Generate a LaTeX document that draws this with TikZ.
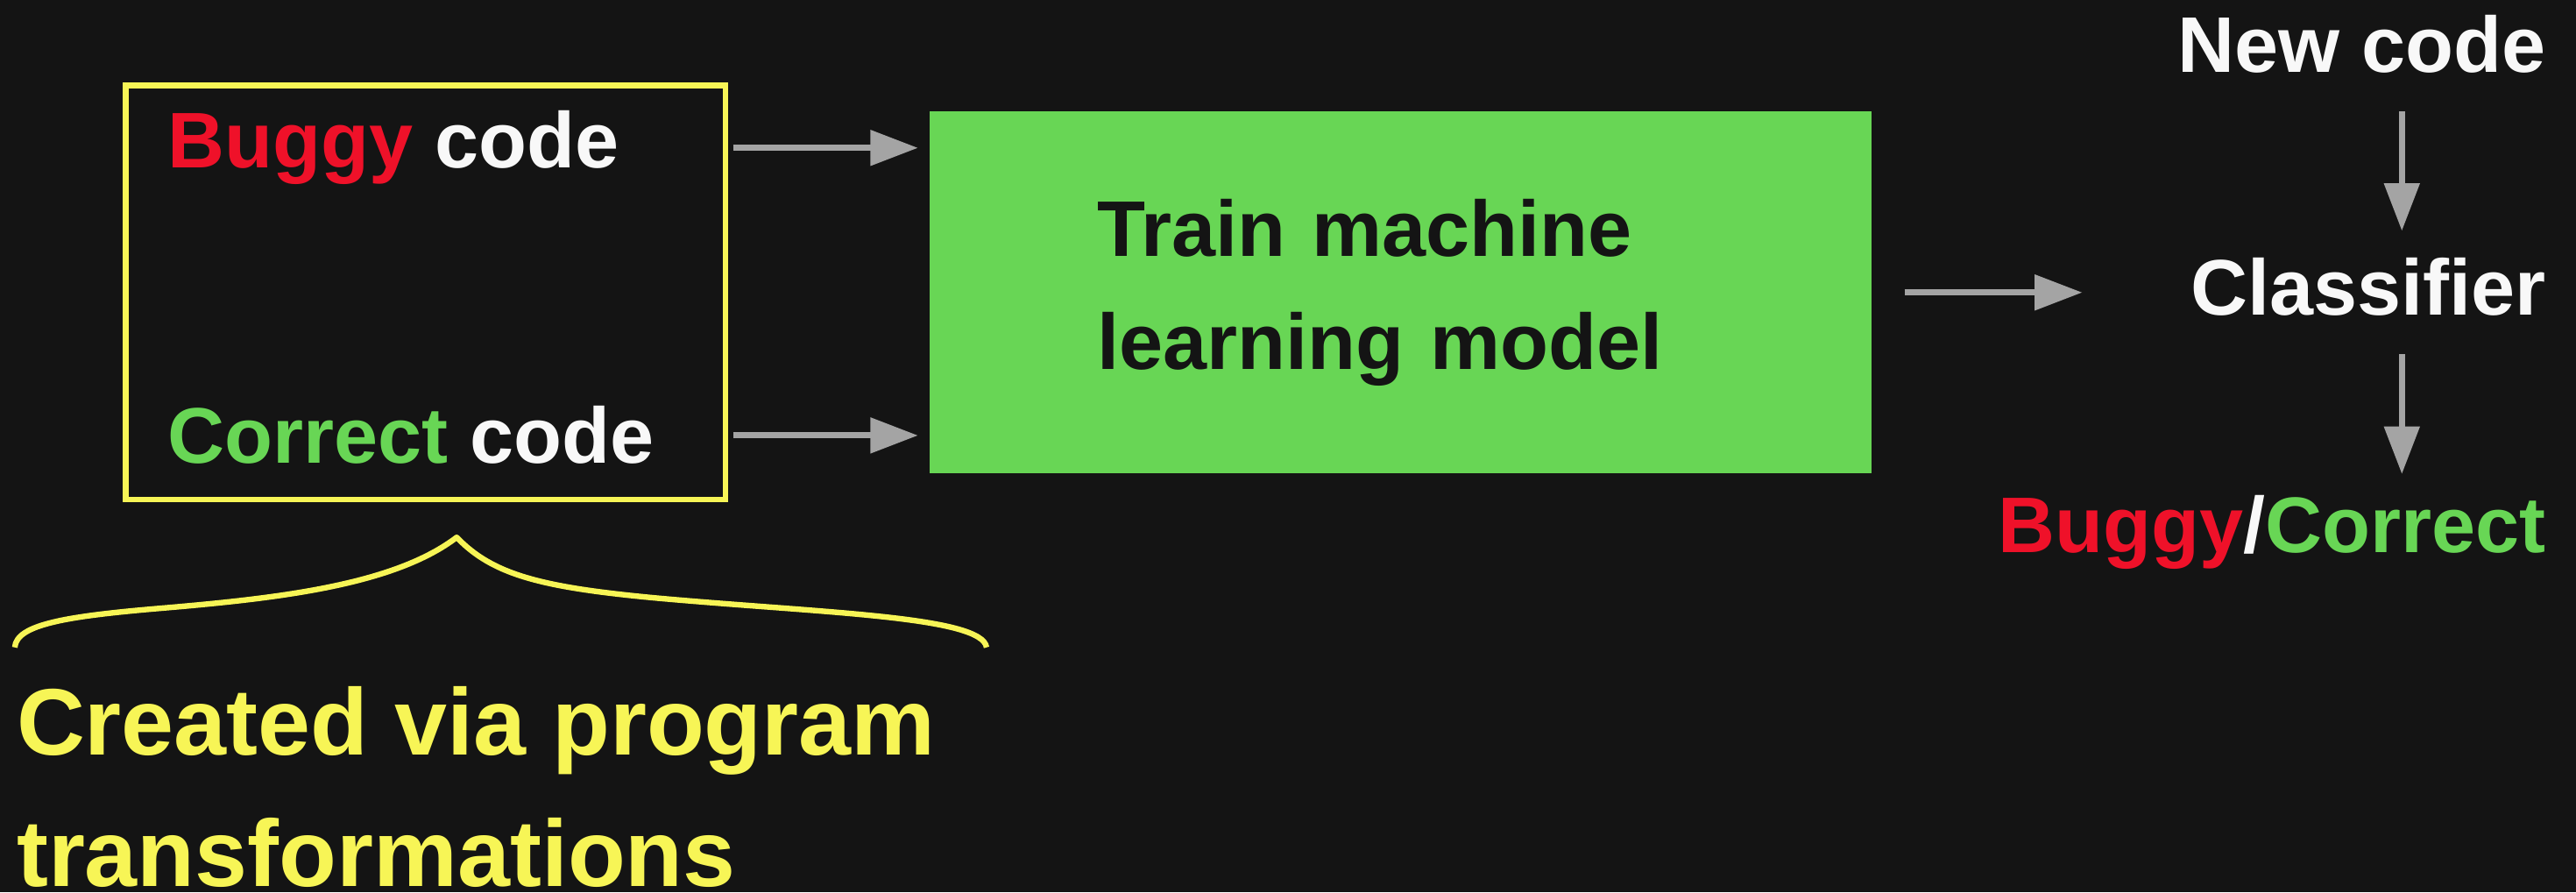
\documentclass[tikz,border=0pt]{standalone}
\usepackage{fontspec}
\setmainfont{Liberation Sans}
\usetikzlibrary{arrows.meta}
\definecolor{bgc}{HTML}{141414}
\definecolor{hiyellow}{HTML}{F7F556}
\definecolor{bugred}{HTML}{EF1129}
\definecolor{okgreen}{HTML}{68D655}
\definecolor{arrowgray}{HTML}{A4A4A4}
\definecolor{txtwhite}{HTML}{F8F8F8}
\newcommand{\bigbold}{\fontsize{48}{69}\selectfont\bfseries}
\newcommand{\notebold}{\fontsize{57.5}{80}\selectfont\bfseries}
\begin{document}
\begin{tikzpicture}[x=1pt,y=-1pt,
  label/.style={inner sep=0pt, anchor=base west, font=\bigbold, text=txtwhite},
  flow/.style={draw=arrowgray, line width=3.8pt, -{Triangle[length=29pt,width=21pt]}},
  srcbox/.style={draw=hiyellow, line width=3.4pt, minimum width=365pt, minimum height=252pt, inner sep=0pt},
  trainbox/.style={fill=okgreen, minimum width=573pt, minimum height=220pt, inner ysep=0pt,
    inner xsep=102pt, text width=369pt, align=left, font=\bigbold, text=bgc},
  brace/.style={draw=hiyellow, line width=3.4pt, line join=round}]
\fill[bgc] (0,0) rectangle (1568,543);
\useasboundingbox (0,0) rectangle (1568,543);

% training data
\node[srcbox] (src) at (259,178) {};
\node[label] (bug) at (102,102) {\textcolor{bugred}{Buggy} code};
\node[label] (cor) at (102,282) {\textcolor{okgreen}{Correct} code};

% model training
\node[trainbox] (train) at (852.5,178) {Train machine\\learning model};

% prediction column
\node[label, anchor=base east] (newc) at (1550,44) {New code};
\node[label, anchor=base east] (clf) at (1550,191.5) {Classifier};
\node[label, anchor=base east] (out) at (1550,336.5) {\textcolor{bugred}{Buggy}/\textcolor{okgreen}{Correct}};
\coordinate (col) at (1462,0);

% connectors
\draw[flow, shorten <=3pt, shorten >=7pt] (src.east |- 0,90) -- (train.west |- 0,90);
\draw[flow, shorten <=3pt, shorten >=7pt] (src.east |- 0,265) -- (train.west |- 0,265);
\draw[flow, shorten <=20pt, shorten >=66pt] (train.east |- 0,178) -- (clf.west |- 0,178);
\draw[flow, shorten <=24pt, shorten >=16pt] (newc.base -| col) -- (clf.north -| col);
\draw[flow, shorten <=24pt, shorten >=13pt] (clf.base -| col) -- (out.north -| col);

% brace under the training data and its note
\coordinate (bl) at (9,394);
\coordinate (bt) at (278,327);
\coordinate (br) at (600.5,394);
\draw[brace] (bl) .. controls (10,380) and (40,375) .. (100,370)
  .. controls (170,364) and (240,356) .. (bt)
  .. controls (300,350) and (330,357.5) .. (400,364)
  .. controls (500,373) and (598,375) .. (br);
\node[inner sep=0pt, anchor=base west, align=left, font=\notebold, text=hiyellow] (note) at (10,539.5)
  {Created via program\\transformations};
\end{tikzpicture}
\end{document}
